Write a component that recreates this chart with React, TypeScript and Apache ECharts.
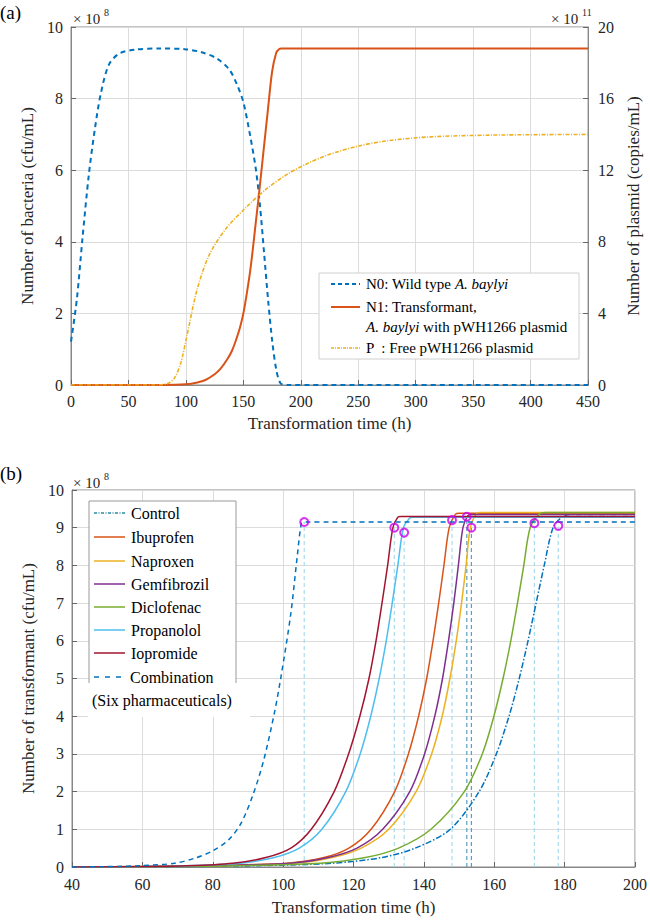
import React, { useEffect, useRef } from "react";
import * as echarts from "echarts";

const FONT = "Liberation Serif, DejaVu Serif, serif";

// ---------- Panel (a) data ----------
const aTicksX = [0, 450, 50];
const aLeftRange = [0, 10, 2];
const aRightRange = [0, 20, 4];
// N0 wild type (x1e8 cfu/mL)
const n0Data: [number, number][] = [
  [0, 1.21], [5, 2.37], [10, 4.1], [15.6, 5.9], [21, 7.2], [26, 8.15], [33, 8.95], [42, 9.26], [56, 9.37],
  [78, 9.4], [99, 9.38], [113, 9.3], [127, 9.12], [138, 8.8], [145, 8.35], [150, 7.9], [155.7, 7.0],
  [161, 6.0], [164.5, 5.0], [168, 3.7], [171.6, 2.35], [175.2, 1.2], [178.7, 0.42], [182.3, 0.05],
  [188, 0], [450, 0],
];
// N1 transformant (x1e8 cfu/mL)
const n1Data: [number, number][] = [
  [0, 0], [80, 0], [100, 0.02], [110, 0.07], [117, 0.14], [125, 0.3], [130, 0.45], [136, 0.72],
  [140, 0.95], [143, 1.2], [147, 1.6], [150, 2.0], [153, 2.56], [156, 3.2], [158.6, 3.9], [161, 4.6],
  [163, 5.16], [167, 6.37], [171.4, 7.7], [175, 8.75], [178.6, 9.28], [181, 9.38], [183, 9.4], [450, 9.4],
];
// P free plasmid (x1e11 copies/mL, right axis)
const pData: [number, number][] = [
  [0, 0], [75, 0], [84.7, 0.1], [90, 0.38], [95.4, 1.2], [100.7, 2.7], [109.6, 5.3], [120.2, 7.25],
  [134.4, 8.7], [152, 9.9], [170, 10.95], [187.6, 11.75], [205, 12.35], [223, 12.84], [250, 13.35],
  [276, 13.65], [312, 13.86], [365, 13.96], [450, 14.0],
];

// ---------- Panel (b) data ----------
const bTicksX = [40, 200, 20];
const bRangeY = [0, 10, 1];
const bNames = ["Control", "Ibuprofen", "Naproxen", "Gemfibrozil", "Diclofenac", "Propanolol", "Iopromide", "Combination"];
const controlData: [number, number][] = [
  [40, 0], [70, 0.01], [95, 0.04], [114, 0.1], [128, 0.25], [137.5, 0.5], [147.5, 1], [155.7, 2],
  [160.6, 3], [164.2, 4], [167.1, 5], [169.6, 6], [171.9, 7], [174.2, 8], [176.7, 9], [179.2, 9.28],
  [181.5, 9.35], [200, 9.35],
];
const ibuprofenData: [number, number][] = [
  [40, 0], [60, 0.01], [80, 0.04], [101, 0.1], [111.6, 0.25], [118.7, 0.5], [125, 1], [131.7, 2],
  [135.6, 3], [138.5, 4], [140.8, 5], [142.6, 6], [144.2, 7], [145.7, 8], [147.2, 9], [149, 9.36],
  [150, 9.38], [200, 9.38],
];
const naproxenData: [number, number][] = [
  [40, 0], [60, 0.01], [80, 0.03], [103.4, 0.1], [114, 0.25], [122.2, 0.5], [130, 1], [137.8, 2],
  [142.2, 3], [145.2, 4], [147.4, 5], [149.2, 6], [150.7, 7], [152, 8], [153.2, 9], [155, 9.38],
  [156, 9.4], [200, 9.4],
];
const gemfibrozilData: [number, number][] = [
  [40, 0], [60, 0.01], [80, 0.04], [102.2, 0.1], [112.8, 0.25], [121, 0.5], [128.3, 1], [136, 2],
  [140.2, 3], [143.1, 4], [145.3, 5], [147, 6], [148.5, 7], [149.8, 8], [151.1, 9], [152.5, 9.32],
  [153.5, 9.35], [200, 9.35],
];
const diclofenacData: [number, number][] = [
  [40, 0], [70, 0.01], [90, 0.04], [110.5, 0.1], [123.4, 0.25], [132.8, 0.5], [142, 1], [151.5, 2],
  [156.6, 3], [159.9, 4], [162.5, 5], [164.7, 6], [166.6, 7], [168.4, 8], [170.2, 9], [172.8, 9.36],
  [174.5, 9.4], [200, 9.4],
];
const propanololData: [number, number][] = [
  [40, 0], [60, 0.01], [75, 0.04], [88, 0.1], [97.5, 0.25], [104.6, 0.5], [111, 1], [117.8, 2],
  [121.9, 3], [124.9, 4], [127.3, 5], [129.3, 6], [131, 7], [132.6, 8], [134.2, 9], [136, 9.26],
  [137, 9.28], [200, 9.28],
];
const iopromideData: [number, number][] = [
  [40, 0], [60, 0.01], [72.8, 0.03], [85.7, 0.1], [95.1, 0.25], [102.2, 0.5], [108, 1], [114.5, 2],
  [118.6, 3], [121.8, 4], [124.4, 5], [126.4, 6], [128.1, 7], [129.7, 8], [131.2, 9], [132.6, 9.28],
  [133.5, 9.3], [200, 9.3],
];
const combinationData: [number, number][] = [
  [40, 0], [50, 0.01], [59.8, 0.035], [69.2, 0.1], [75.1, 0.24], [79.8, 0.42], [84.5, 0.72],
  [88.1, 1.17], [91.6, 1.96], [94.5, 2.84], [97.5, 4.08], [99.4, 5.05], [102.2, 6.73], [104, 8.23],
  [105.2, 9.12], [106, 9.15], [200, 9.15],
];
// marker points (magenta circles) and their drop lines
const markerT = [106, 131.6, 134.4, 148, 152.2, 153.5, 171.4, 178.2];
const markerV = [9.15, 9.0, 8.87, 9.2, 9.29, 9.0, 9.12, 9.05];

const bColors = ["#0072BD", "#D95319", "#EDB120", "#7E2F8E", "#77AC30", "#4DBEEE", "#A2142F", "#0072BD"];
const bDash: any[] = [[6, 2, 1.5, 2], "solid", "solid", "solid", "solid", "solid", "solid", [5, 4]];
const bSeriesData = [controlData, ibuprofenData, naproxenData, gemfibrozilData, diclofenacData, propanololData, iopromideData, combinationData];

export default function App() {
  const ref = useRef<HTMLDivElement>(null);
  useEffect(() => {
    if (!ref.current) return;
    const chart = echarts.init(ref.current, undefined, { renderer: "svg" });

    const axisLabel = { color: "#262626", fontSize: 16, fontFamily: FONT };
    const nameStyle = { color: "#262626", fontSize: 17, fontFamily: FONT };
    const axisLine = { show: true, lineStyle: { color: "#888" } };
    const axisTick = { show: true, inside: true, length: 5, lineStyle: { color: "#666" } };
    const splitLine = { show: true, lineStyle: { color: "#dcdcdc", width: 1 } };
    const SM = 0.3;

    const series: any[] = [];
    series.push({
      type: "line", name: "N0", xAxisIndex: 0, yAxisIndex: 0, data: n0Data, showSymbol: false,
      smooth: SM, lineStyle: { color: "#0072BD", width: 2, type: [5, 4] }, z: 3,
    });
    series.push({
      type: "line", name: "N1", xAxisIndex: 0, yAxisIndex: 0, data: n1Data, showSymbol: false,
      smooth: SM, lineStyle: { color: "#D95319", width: 2 }, z: 3,
    });
    series.push({
      type: "line", name: "P", xAxisIndex: 0, yAxisIndex: 1, data: pData, showSymbol: false,
      smooth: SM, lineStyle: { color: "#EDB120", width: 1.6, type: [4, 1.5, 1, 1.5] }, z: 3,
    });
    // drop lines
    markerT.forEach((t, i) => {
      series.push({
        type: "line", xAxisIndex: 1, yAxisIndex: 2, data: [[t, 0], [t, markerV[i]]], showSymbol: false,
        silent: true, lineStyle: { color: i === 4 || i === 5 ? "#5a9ec6" : "#aadcec", width: 1.2, type: [4, 3] }, z: 1,
      });
    });
    bSeriesData.forEach((d, i) => {
      series.push({
        type: "line", name: bNames[i], xAxisIndex: 1, yAxisIndex: 2, data: d, showSymbol: false,
        smooth: SM,
        lineStyle: { color: bColors[i], width: 1.5, type: bDash[i] }, z: 3,
      });
    });
    series.push({
      type: "scatter", xAxisIndex: 1, yAxisIndex: 2, data: markerT.map((t, i) => [t, markerV[i]]),
      symbol: "circle", symbolSize: 8,
      itemStyle: { color: "rgba(255,255,255,0)", borderColor: "#cc00ee", borderWidth: 2 }, z: 5,
    });

    const txt = (x: number, y: number, text: string, size = 16, extra: any = {}) => ({
      type: "text", x, y, z: 100,
      style: { text, fontSize: size, fontFamily: FONT, fill: "#000", ...extra },
    });
    const seg = (x1: number, y: number, x2: number, color: string, dash: any, width = 2) => ({
      type: "line", z: 100, shape: { x1, y1: y, x2, y2: y },
      style: { stroke: color, lineWidth: width, lineDash: dash === "solid" ? null : dash },
    });
    const italic = { i: { fontStyle: "italic", fontSize: 15, fontFamily: FONT, fill: "#000" } };

    const legendA = [
      { type: "rect", z: 99, shape: { x: 319, y: 273, width: 260, height: 86 }, style: { fill: "#fff", stroke: "#d0d0d0", lineWidth: 1 } },
      seg(331, 284, 360, "#0072BD", [4, 3]),
      seg(331, 307, 360, "#D95319", "solid"),
      seg(331, 348, 360, "#EDB120", [3, 1, 1, 1], 1.5),
      txt(366, 284, "N0: Wild type {i|A. baylyi}", 15, { verticalAlign: "middle", rich: italic }),
      txt(366, 307, "N1: Transformant,", 15, { verticalAlign: "middle" }),
      txt(366, 327, "{i|A. baylyi} with pWH1266 plasmid", 15, { verticalAlign: "middle", rich: italic }),
      txt(366, 348, "P  : Free pWH1266 plasmid", 15, { verticalAlign: "middle" }),
    ];

    const rowsY = [513, 537, 561, 584, 607, 630, 653, 677];
    const legendB: any[] = [
      { type: "rect", z: 99, shape: { x: 89, y: 501, width: 147, height: 184 }, style: { fill: "#fff", stroke: "#999", lineWidth: 1 } },
      { type: "rect", z: 99, shape: { x: 88, y: 683, width: 162, height: 34 }, style: { fill: "#fff", stroke: null } },
    ];
    bNames.forEach((n, i) => {
      const c = i === 0 ? "#2a8cab" : bColors[i];
      legendB.push(seg(94, rowsY[i], 125, c, i === 0 ? [3, 1.5, 1, 1.5] : i === 7 ? [5, 6] : "solid", 1.5));
      legendB.push(txt(i === 7 ? 130 : 131, rowsY[i], n, 16, { verticalAlign: "middle" }));
    });
    legendB.push(txt(92, 700, "(Six pharmaceuticals)", 16, { verticalAlign: "middle" }));

    const graphic = [
      ...legendA,
      ...legendB,
      txt(0, 12, "(a)", 19, { verticalAlign: "middle" }),
      txt(0, 473, "(b)", 19, { verticalAlign: "middle" }),
      txt(73, 19, "× 10", 15, { verticalAlign: "middle", fill: "#262626" }),
      txt(104, 12, "8", 10, { verticalAlign: "middle", fill: "#262626" }),
      txt(551, 19, "× 10", 15, { verticalAlign: "middle", fill: "#262626" }),
      txt(582, 12, "11", 10, { verticalAlign: "middle", fill: "#262626" }),
      txt(73, 483, "× 10", 15, { verticalAlign: "middle", fill: "#262626" }),
      txt(104, 476, "8", 10, { verticalAlign: "middle", fill: "#262626" }),
    ];

    chart.setOption({
      animation: false,
      backgroundColor: "#fff",
      textStyle: { fontFamily: FONT },
      grid: [
        { left: 71, top: 27, width: 529, height: 358, show: true, borderColor: "#888", borderWidth: 1, backgroundColor: "#fff" },
        { left: 72, top: 490, width: 565, height: 377, show: true, borderColor: "#888", borderWidth: 1, backgroundColor: "#fff" },
      ],
      xAxis: [
        {
          gridIndex: 0, type: "value", min: aTicksX[0], max: aTicksX[1], interval: aTicksX[2],
          axisLine, axisTick, splitLine, axisLabel: { ...axisLabel, margin: 8 },
          name: "Transformation time (h)", nameLocation: "middle", nameGap: 30, nameTextStyle: nameStyle,
        },
        {
          gridIndex: 1, type: "value", min: bTicksX[0], max: bTicksX[1], interval: bTicksX[2],
          axisLine, axisTick, splitLine, axisLabel: { ...axisLabel, margin: 9 },
          name: "Transformation time (h)", nameLocation: "middle", nameGap: 32, nameTextStyle: nameStyle,
        },
      ],
      yAxis: [
        {
          gridIndex: 0, type: "value", min: aLeftRange[0], max: aLeftRange[1], interval: aLeftRange[2],
          axisLine, axisTick, splitLine, axisLabel: { ...axisLabel, margin: 8 },
          name: "Number of bacteria (cfu/mL)", nameLocation: "middle", nameGap: 30, nameTextStyle: nameStyle,
        },
        {
          gridIndex: 0, type: "value", position: "right", min: aRightRange[0], max: aRightRange[1], interval: aRightRange[2],
          axisLine, axisTick, splitLine: { show: false }, axisLabel: { ...axisLabel, margin: 10 },
          name: "Number of plasmid (copies/mL)", nameLocation: "middle", nameGap: 34, nameRotate: 90, nameTextStyle: nameStyle,
        },
        {
          gridIndex: 1, type: "value", min: bRangeY[0], max: bRangeY[1], interval: bRangeY[2],
          axisLine, axisTick, splitLine, axisLabel: { ...axisLabel, margin: 8 },
          name: "Number of transformant (cfu/mL)", nameLocation: "middle", nameGap: 30, nameTextStyle: nameStyle,
        },
      ],
      series,
      graphic,
    });
    return () => chart.dispose();
  }, []);
  return <div ref={ref} style={{ position: "fixed", left: 0, top: 0, width: 650, height: 920 }} />;
}
